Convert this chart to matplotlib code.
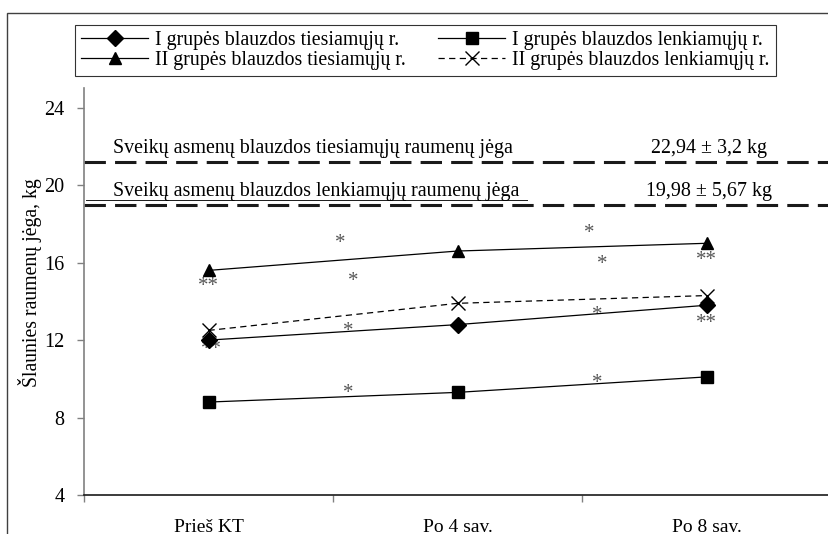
import matplotlib.pyplot as plt
from matplotlib.patches import Rectangle

plt.rcParams['font.family'] = ['Liberation Serif', 'DejaVu Serif']

categories = ['Prieš KT', 'Po 4 sav.', 'Po 8 sav.']

g1_ext = [12.0, 12.8, 13.8]    # I grupės blauzdos tiesiamųjų r.
g1_flex = [8.8, 9.3, 10.1]     # I grupės blauzdos lenkiamųjų r.
g2_ext = [15.6, 16.6, 17.0]    # II grupės blauzdos tiesiamųjų r.
g2_flex = [12.5, 13.9, 14.3]   # II grupės blauzdos lenkiamųjų r.

series_labels = ['I grupės blauzdos tiesiamųjų r.',
                 'II grupės blauzdos tiesiamųjų r.',
                 'I grupės blauzdos lenkiamųjų r.',
                 'II grupės blauzdos lenkiamųjų r.']

# healthy reference levels
ref_levels = [21.2, 19.0]
ref_names = ['Sveikų asmenų blauzdos tiesiamųjų raumenų jėga',
             'Sveikų asmenų blauzdos lenkiamųjų raumenų jėga']
ref_values = ['22,94 ± 3,2 kg', '19,98 ± 5,67 kg']

# significance marks (x, y, text)
stars = [
    (0.0, 14.75, '**'), (0.53, 17.0, '*'), (0.58, 15.05, '*'),
    (1.53, 17.5, '*'), (1.58, 15.9, '*'), (2.0, 16.1, '**'),
    (0.01, 11.5, '**'), (0.56, 12.42, '*'), (0.56, 9.22, '*'),
    (1.56, 13.25, '*'), (1.56, 9.74, '*'), (2.0, 12.85, '**'),
]

fig = plt.figure(figsize=(8.29, 5.34), dpi=100)
ax = fig.add_axes([84 / 829, 39 / 534, 747 / 829, 406.6 / 534])

x = range(len(categories))
h1, = ax.plot(x, g1_ext, color='black', lw=0.9, marker='D', ms=8,
              mfc='black', mec='black', zorder=4)
h3, = ax.plot(x, g2_ext, color='black', lw=0.9, marker='^', ms=9,
              mfc='black', mec='black', zorder=4)
h2, = ax.plot(x, g1_flex, color='black', lw=0.9, marker='s', ms=8.5,
              mfc='black', mec='black', zorder=4)
h4, = ax.plot(x, g2_flex, color='black', lw=0.9, ls=(0, (5, 3.5)),
              marker='x', ms=10, mew=1.0, mec='black', zorder=4)

for lvl in ref_levels:
    ax.axhline(lvl, color='#1a1a1a', lw=2.2, ls=(0, (7, 3)), zorder=2)

name_y = [ref_levels[0] + 0.45, ref_levels[1] + 0.45]
for name, val, yy in zip(ref_names, ref_values, name_y):
    ax.text(-0.385, yy, name, fontsize=14.4, ha='left', va='baseline', zorder=3)
    ax.text(2.01, yy, val, fontsize=14.4, ha='center', va='baseline', zorder=3)
# underline under the lower caption
ax.plot([-0.49, 1.28], [ref_levels[1] + 0.22] * 2, color='#1a1a1a', lw=0.7)

for sx, sy, s in stars:
    ax.text(sx, sy, s, fontsize=15, color='#555555', ha='center', va='center')

ax.set_xlim(-0.5, 2.5)
ax.set_ylim(4, 25)
ax.set_yticks([4, 8, 12, 16, 20, 24])
ax.set_xticks([-0.5, 0.5, 1.5])
ax.set_xticklabels([])
ax.set_xticks(list(x), minor=True)
ax.set_xticklabels(categories, minor=True)
ax.tick_params(axis='x', which='major', direction='out', length=5,
               width=1, color='#808080')
ax.tick_params(axis='x', which='minor', length=0, pad=17, labelsize=14)
ax.tick_params(axis='y', direction='out', length=5, width=1,
               color='#808080', labelsize=14.5, pad=9)

for side in ['top', 'right']:
    ax.spines[side].set_visible(False)
ax.spines['left'].set_color('#808080')
ax.spines['left'].set_linewidth(1.2)
ax.spines['bottom'].set_color('#1a1a1a')
ax.spines['bottom'].set_linewidth(1.2)

fig.text(30 / 829, 1 - 283 / 534, 'Šlaunies raumenų jėga, kg', rotation=90,
         fontsize=14.2, ha='center', va='center')

fig.legend([h1, h3, h2, h4], series_labels, ncol=2, loc='upper left',
           bbox_to_anchor=(75 / 829, 1 - 25 / 534), fontsize=14.3,
           frameon=True, fancybox=False, edgecolor='black',
           handlelength=3.4, handletextpad=0.35, columnspacing=1.6,
           labelspacing=0.05, borderpad=0.3, borderaxespad=0)
fig.legends[0].get_frame().set_linewidth(0.8)

# outer frame
fig.patches.append(Rectangle((7 / 829, -0.1), 1.2, 1.1 - 13 / 534,
                             transform=fig.transFigure, fill=False,
                             edgecolor='#404040', lw=1.0))

fig.savefig('out.png', dpi=100)
